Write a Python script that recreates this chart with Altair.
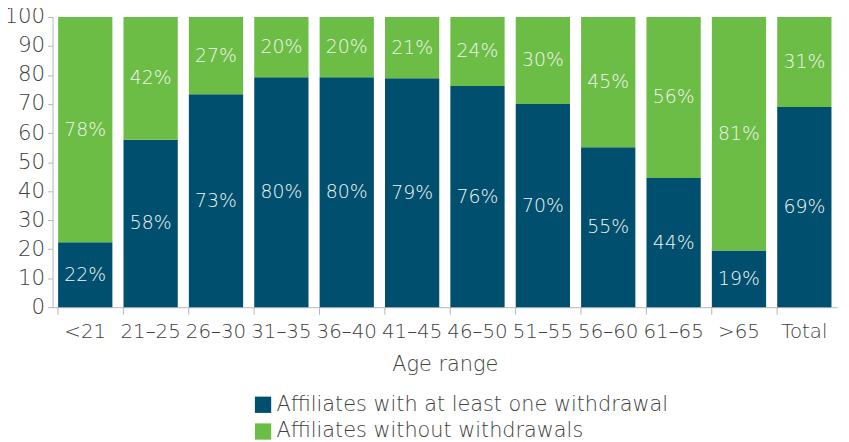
import altair as alt
import pandas as pd

ages = ["<21", "21–25", "26–30", "31–35", "36–40", "41–45", "46–50", "51–55", "56–60", "61–65", ">65", "Total"]
with_withdrawal = [22.4, 57.7, 73.4, 79.2, 79.2, 78.9, 76.2, 70.0, 55.1, 44.5, 19.5, 69.0]
without_withdrawal = [77.6, 42.3, 26.6, 20.8, 20.8, 21.1, 23.8, 30.0, 44.9, 55.5, 80.5, 31.0]
labels_with = ["22%", "58%", "73%", "80%", "80%", "79%", "76%", "70%", "55%", "44%", "19%", "69%"]
labels_without = ["78%", "42%", "27%", "20%", "20%", "21%", "24%", "30%", "45%", "56%", "81%", "31%"]
series = ["Affiliates with at least one withdrawal", "Affiliates without withdrawals"]
colors = ["#004f6e", "#6cbd45"]

rows = []
for i, a in enumerate(ages):
    rows.append({"age": a, "series": series[0], "value": with_withdrawal[i], "label": labels_with[i], "order": 0})
    rows.append({"age": a, "series": series[1], "value": without_withdrawal[i], "label": labels_without[i], "order": 1})
df = pd.DataFrame(rows)

FONT = "DejaVu Sans"
TXT = "#404040"
W = 200

base = alt.Chart(df).transform_stack(
    stack="value", groupby=["age"], as_=["y0", "y1"], sort=[alt.SortField("order")]
).transform_calculate(mid="(datum.y0 + datum.y1) / 2")

x_axis = alt.Axis(labelAngle=0, labelFontSize=20, labelColor=TXT, labelFont=FONT,
                  labelFontWeight=W, labelOverlap=False,
                  titleFontSize=21, titleColor=TXT, titleFont=FONT, titleFontWeight=W,
                  titlePadding=12, domainColor="#b5b5b5", tickColor="#b5b5b5", tickSize=7,
                  bandPosition=0, labelPadding=8)
y_axis = alt.Axis(values=list(range(0, 101, 10)), labelFontSize=21.5, labelColor=TXT,
                  labelFont=FONT, labelFontWeight=W, labelOverlap=False,
                  domainColor="#b5b5b5", tickColor="#b5b5b5",
                  tickSize=5, grid=False, labelPadding=3, title=None)
x_scale = alt.Scale(paddingInner=0.17, paddingOuter=0.085)
y_scale = alt.Scale(domain=[0, 100])

bars = base.mark_bar().encode(
    x=alt.X("age:N", sort=ages, title="Age range", scale=x_scale, axis=x_axis),
    y=alt.Y("y0:Q", title=None, scale=y_scale, axis=y_axis),
    y2="y1:Q",
    color=alt.Color("series:N", scale=alt.Scale(domain=series, range=colors),
                    legend=alt.Legend(title=None, orient="none", legendX=202, legendY=381,
                                      direction="vertical", symbolType="square", symbolSize=270,
                                      symbolStrokeWidth=0, labelFontSize=21, labelColor=TXT,
                                      labelFont=FONT, labelFontWeight=W, rowPadding=5, labelOffset=3,
                                      labelLimit=600)),
)

text = base.mark_text(fontSize=19, color="#f2f5f0", font=FONT, fontWeight=W).encode(
    x=alt.X("age:N", sort=ages, title="Age range", scale=x_scale, axis=x_axis),
    y=alt.Y("mid:Q", title=None, scale=y_scale, axis=y_axis),
    text="label:N",
)

chart = (bars + text).properties(
    width=792, height=293,
    autosize=alt.AutoSizeParams(type="none"),
    padding={"left": 45, "top": 7, "right": 4, "bottom": 134},
).configure_view(stroke=None)

chart.save("out.html", embed_options={"renderer": "svg", "actions": False})
